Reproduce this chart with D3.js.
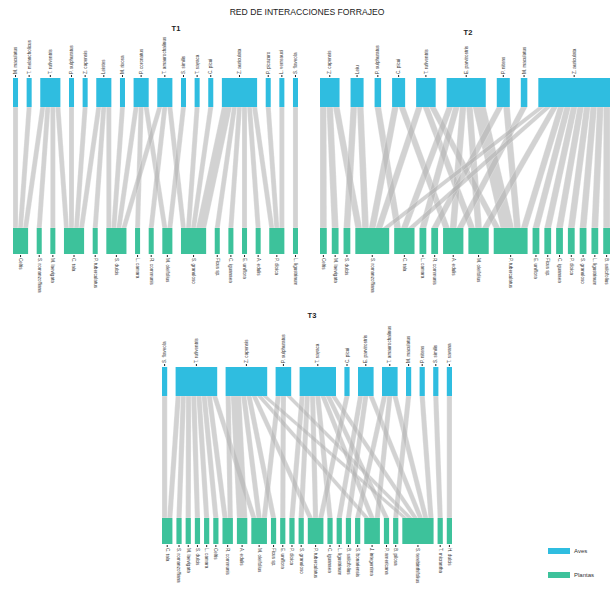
<!DOCTYPE html>
<html>
<head>
<meta charset="utf-8">
<script src="https://cdn.jsdelivr.net/npm/d3@7"></script>
<style>
  body { margin: 0; background: #fff; }
  text { font-family: "Liberation Sans", Arial, sans-serif; }
</style>
</head>
<body>
<svg id="web" width="613" height="591"></svg>
<script>
// species per period: birds on top, plants at bottom
const t1Birds = ["M. maculatus","T. melancholicus","T. rufiventris","P. sulphuratus","Z. capensis","Leistes","M. rixosa","P. coronatus","T. amaurochalinus","S. similis","T. sayaca","C. picui","Z. auriculata","P. picazuro","L. verreauxi","S. flaveola"];
const t1Plants = ["Celtis","S. romanzoffiana","M. laevigata","C. tala","P. tuberculatus","S. dulcis","L. camara","R. communis","M. oleifolius","S. granuloso","Ficus sp.","C. iguanaea","E. uniflora","A. edulis","P. dioica","L. ligustrinum"];
// links: [bird index, plant index, interactions]
const t1Links = [
  [0,0,1],[1,0,1],[2,0,1],[2,1,1],[2,2,1],[2,3,1],[3,3,1],[4,3,1],
  [5,3,1],[5,4,1],[5,5,1],[6,5,1],[7,5,1],[7,6,1],[7,8,1],
  [8,5,1],[8,7,1],[8,9,1],[9,8,1],[10,9,1],[11,9,1],
  [12,9,2],[12,10,1],[12,11,1],[12,12,1],[12,13,1],[12,14,1],
  [13,14,1],[14,14,1],[15,15,1]
];

const t2Birds = ["Z. capensis","Leiu","P. sulphuratus","C. picui","T. rufiventris","E. parvirostris","P. nitens","M. maculatus","Z. auriculata"];
const t2Plants = ["Celtis","M. laevigata","S. dulcis","S. romanzoffiana","C. tala","L. camara","R. communis","A. edulis","M. oleifolius","P. tuberculatus","E. uniflora","Ficus sp.","C. iguanaea","P. dioica","S. granuloso","L. ligustrinum","B. salicifolius"];
const t2Links = [
  [0,0,1],[0,1,1],[0,3,1],[1,2,1],[1,3,1],[2,4,1],[3,3,1],[3,7,1],
  [4,3,1],[4,8,1],[4,9,1],
  [5,4,1],[5,5,1],[5,7,1],[5,8,1],[5,9,2],
  [6,6,1],[6,9,1],[7,7,1],
  [8,3,1],[8,4,1],[8,8,1],[8,9,1],[8,10,1],[8,11,1],[8,12,1],[8,13,1],[8,14,1],[8,15,1],[8,16,1]
];

const t3Birds = ["S. flaveola","T. rufiventris","Z. capensis","P. sulphuratus","T. sayaca","C. picui","E. parvirostris","T. amaurochalinus","M. maculatus","P. nitens","S. similis","T. savana"];
const t3Plants = ["C. tala","S. romanzoffiana","M. laevigata","S. dulcis","L. camara","Celtis","R. communis","A. edulis","M. oleifolius","Ficus sp.","E. uniflora","P. dioica","S. granuloso","P. tuberculatus","C. iguanaea","L. ligustrinum","B. salicifolius","S. bonariensis","J. integerrima","P. americana","B. pilosa","S. terebinthifolius","T. micrantha","H. dulcis"];
const t3Links = [
  [0,0,1],
  [1,0,1],[1,1,1],[1,2,1],[1,3,1],[1,4,1],[1,5,1],[1,6,1],[1,8,1],
  [2,6,1],[2,7,2],[2,8,1],[2,9,1],[2,13,1],[2,18,1],[2,21,1],
  [3,8,1],[3,10,1],[3,21,1],
  [4,11,1],[4,12,1],[4,13,1],[4,14,1],[4,18,1],[4,19,1],[4,21,1],
  [5,13,1],
  [6,15,1],[6,16,1],[6,21,1],
  [7,17,1],[7,18,1],[7,21,1],
  [8,20,1],[9,21,1],[10,22,1],[11,23,1]
];

const legendLabels = ["Aves", "Plantas"];

const colBird = "#2fbde0";
const colPlant = "#3dc29b";
const colLink = "#b4b4b4";

const svg = d3.select("#web");

svg.append("text")
  .attr("x", 307).attr("y", 15)
  .attr("text-anchor", "middle")
  .attr("font-size", 8.6)
  .attr("fill", "#222")
  .text("RED DE INTERACCIONES FORRAJEO");

const panels = [
  { title: "T1", birds: t1Birds, plants: t1Plants, links: t1Links,
    x0: 13, x1: 298, top: 78, bot: 228, gapTop: 8.6, gapBot: 8.6, tx: 176, ty: 31 },
  { title: "T2", birds: t2Birds, plants: t2Plants, links: t2Links,
    x0: 320, x1: 610, top: 78, bot: 228, gapTop: 11, gapBot: 5, tx: 468, ty: 35 },
  { title: "T3", birds: t3Birds, plants: t3Plants, links: t3Links,
    x0: 162, x1: 452, top: 367, bot: 518, gapTop: 8.4, gapBot: 4, tx: 312, ty: 318 }
];

const barH = 29;

// place boxes of one row: widths follow interaction counts
function layoutRow(names, weights, x0, x1, gap) {
  const total = d3.sum(weights);
  const sc = d3.scaleLinear().domain([0, total])
    .range([0, (x1 - x0) - (names.length - 1) * gap]);
  let cum = 0;
  return names.map((name, i) => {
    const node = { name, x: x0 + sc(cum) + i * gap, w: sc(weights[i]), sc, used: 0 };
    cum += weights[i];
    return node;
  });
}

panels.forEach(p => {
  const g = svg.append("g");
  const birdW = p.birds.map((d, i) => d3.sum(p.links.filter(l => l[0] === i), l => l[2]));
  const plantW = p.plants.map((d, i) => d3.sum(p.links.filter(l => l[1] === i), l => l[2]));
  const top = layoutRow(p.birds, birdW, p.x0, p.x1, p.gapTop);
  const bot = layoutRow(p.plants, plantW, p.x0, p.x1, p.gapBot);

  // link segments: ordered by the partner's position
  const segs = p.links.map(l => ({ b: l[0], pl: l[1], n: l[2] }));
  d3.sort(segs, s => s.b, s => s.pl).forEach(s => {
    const nd = top[s.b];
    s.tx = nd.x + nd.sc(nd.used); nd.used += s.n; s.tx2 = nd.x + nd.sc(nd.used);
  });
  d3.sort(segs, s => s.pl, s => s.b).forEach(s => {
    const nd = bot[s.pl];
    s.bx = nd.x + nd.sc(nd.used); nd.used += s.n; s.bx2 = nd.x + nd.sc(nd.used);
  });

  const yA = p.top + barH, yB = p.bot;
  g.selectAll("path.link").data(segs).join("path")
    .attr("class", "link")
    .attr("d", s => d3.line()([[s.tx, yA], [s.tx2, yA], [s.bx2, yB], [s.bx, yB]]) + "Z")
    .attr("fill", colLink)
    .attr("fill-opacity", 0.6)
    .attr("stroke", "#fff")
    .attr("stroke-width", 0.25);

  g.selectAll("rect.bird").data(top).join("rect")
    .attr("class", "bird")
    .attr("x", d => d.x).attr("y", p.top)
    .attr("width", d => d.w).attr("height", barH)
    .attr("fill", colBird);

  g.selectAll("rect.plant").data(bot).join("rect")
    .attr("class", "plant")
    .attr("x", d => d.x).attr("y", p.bot)
    .attr("width", d => d.w).attr("height", barH - 3)
    .attr("fill", colPlant);

  // small dark ticks where the labels start
  g.selectAll("line.bt").data(top).join("line")
    .attr("class", "bt")
    .attr("x1", d => d.x + d.w / 2).attr("x2", d => d.x + d.w / 2)
    .attr("y1", p.top - 1).attr("y2", p.top - 3)
    .attr("stroke", "#222").attr("stroke-width", 1);
  g.selectAll("line.pt").data(bot).join("line")
    .attr("class", "pt")
    .attr("x1", d => d.x + d.w / 2).attr("x2", d => d.x + d.w / 2)
    .attr("y1", p.bot + barH - 2).attr("y2", p.bot + barH)
    .attr("stroke", "#222").attr("stroke-width", 1);

  g.selectAll("text.bl").data(top).join("text")
    .attr("class", "bl")
    .attr("transform", d => `translate(${d.x + d.w / 2},${p.top - 4}) rotate(-90)`)
    .attr("dy", "0.35em")
    .attr("font-size", 4.6)
    .attr("fill", "#333")
    .text(d => d.name);

  g.selectAll("text.pl").data(bot).join("text")
    .attr("class", "pl")
    .attr("transform", d => `translate(${d.x + d.w / 2},${p.bot + barH + 1}) rotate(90)`)
    .attr("dy", "0.35em")
    .attr("font-size", 4.6)
    .attr("fill", "#333")
    .text(d => d.name);

  g.append("text")
    .attr("x", p.tx).attr("y", p.ty)
    .attr("text-anchor", "middle")
    .attr("font-size", 7.5)
    .attr("font-weight", "bold")
    .attr("fill", "#222")
    .text(p.title);
});

// legend
const leg = svg.append("g").attr("transform", "translate(548,548)");
leg.selectAll("rect").data(legendLabels).join("rect")
  .attr("x", 0).attr("y", (d, i) => i * 24)
  .attr("width", 22).attr("height", 6)
  .attr("fill", (d, i) => i === 0 ? colBird : colPlant);
leg.selectAll("text").data(legendLabels).join("text")
  .attr("x", 26).attr("y", (d, i) => i * 24 + 3)
  .attr("dy", "0.35em")
  .attr("font-size", 6)
  .attr("fill", "#333")
  .text(d => d);
</script>
</body>
</html>
